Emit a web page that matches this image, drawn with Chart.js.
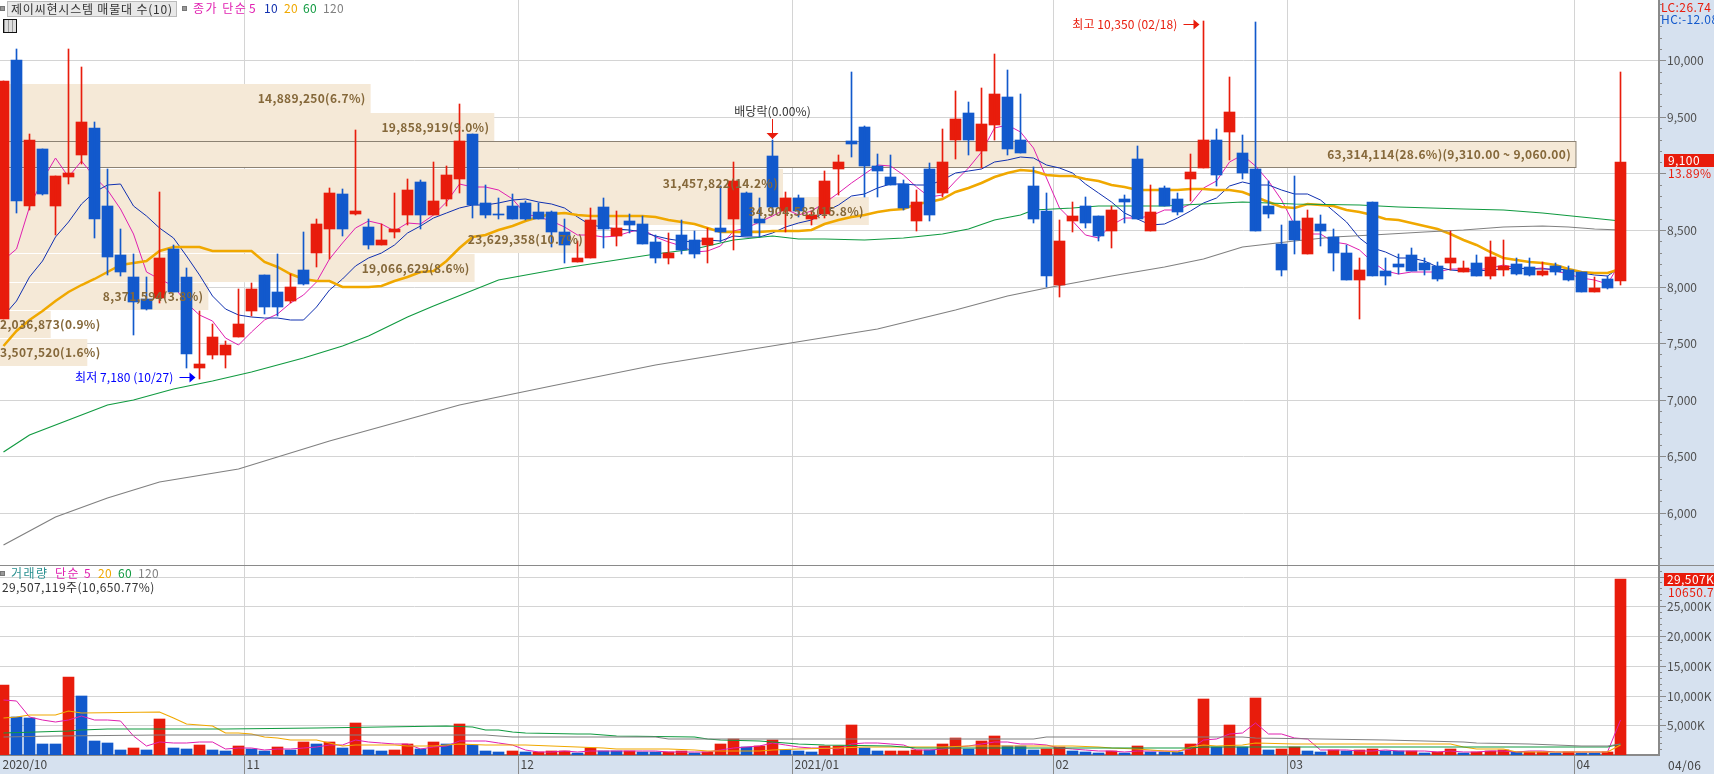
<!DOCTYPE html>
<html>
<head>
<meta charset="utf-8">
<script src="https://cdn.jsdelivr.net/npm/chart.js@4"></script>
<style>
    html, body { margin: 0; padding: 0; background: #fff; overflow: hidden; }
    #wrap { position: relative; width: 1714px; height: 774px; overflow: hidden; font: 12px "Noto Sans CJK KR", sans-serif; }
    canvas { position: absolute; left: 0; }
    #priceChart { top: 0; }
    #volumeChart { top: 565px; }
    .txt { position: absolute; white-space: nowrap; line-height: 14px; letter-spacing: 0.4px; }
    .mark { position: absolute; width: 5px; height: 5px; background: #999; border: 1px solid #777; box-sizing: border-box; }
</style>
</head>
<body>
<div id="wrap">
    <canvas id="priceChart" width="1714" height="565"></canvas>
    <canvas id="volumeChart" width="1714" height="209"></canvas>

    <div class="mark" style="left:0;top:6px"></div>
    <div class="txt" style="left:7px;top:1px;width:165px;height:14px;background:#e8e8e8;border:1px solid #bbb;box-sizing:content-box;padding-left:3px;color:#333;letter-spacing:0.8px">제이씨현시스템 매물대 수(10)</div>
    <div class="mark" style="left:182px;top:6px"></div>
    <div class="txt" style="left:193px;top:1px;color:#e020b0;letter-spacing:1.5px">종가 단순</div>
    <div class="txt" style="left:249px;top:1px;color:#e020b0">5</div>
    <div class="txt" style="left:264px;top:1px;color:#1030b0">10</div>
    <div class="txt" style="left:284px;top:1px;color:#f0a800">20</div>
    <div class="txt" style="left:303px;top:1px;color:#109a40">60</div>
    <div class="txt" style="left:323px;top:1px;color:#808080">120</div>
    <div style="position:absolute;left:3px;top:19px;width:12px;height:12px;border:1px solid #111;background:repeating-linear-gradient(90deg,#999 0 1px,#ddd 1px 4px)"></div>

    <div class="mark" style="left:0;top:571px"></div>
    <div class="txt" style="left:11px;top:566px;color:#2a9090;letter-spacing:1.5px">거래량</div>
    <div class="txt" style="left:55px;top:566px;color:#e020b0;letter-spacing:1.5px">단순</div>
    <div class="txt" style="left:84px;top:566px;color:#e020b0">5</div>
    <div class="txt" style="left:98px;top:566px;color:#f0a800">20</div>
    <div class="txt" style="left:118px;top:566px;color:#109a40">60</div>
    <div class="txt" style="left:138px;top:566px;color:#808080">120</div>
    <div class="txt" style="left:2px;top:580px;color:#333">29,507,119주(10,650.77%)</div>

    <div class="txt" style="left:1661px;top:0;color:#e81c0c">LC:26.74</div>
    <div class="txt" style="left:1661px;top:12px;color:#1259cc">HC:-12.08</div>
    <div class="txt" style="left:1668px;top:153px;width:46px;height:13px;line-height:14px;color:#fff;z-index:2">9,100</div>
    <div style="position:absolute;left:1664px;top:154px;width:50px;height:13px;background:#e81c0c;z-index:1"></div>
    <div class="txt" style="left:1668px;top:166px;color:#e81c0c">13.89%</div>
    <div style="position:absolute;left:1664px;top:573px;width:50px;height:13px;background:#e81c0c;z-index:1"></div>
    <div class="txt" style="left:1667px;top:572px;color:#fff;z-index:2">29,507K</div>
    <div class="txt" style="left:1668px;top:585px;width:46px;overflow:hidden;color:#e81c0c">10650.77</div>
    <div class="txt" style="left:1668px;top:758px;color:#444">04/06</div>
</div>

<script>
// trading days
const dates = [
    '10/05','10/06','10/07','10/08','10/12','10/13','10/14','10/15','10/16','10/19','10/20','10/21','10/22','10/23','10/26','10/27','10/28','10/29','10/30',
    '11/02','11/03','11/04','11/05','11/06','11/09','11/10','11/11','11/12','11/13','11/16','11/17','11/18','11/19','11/20','11/23','11/24','11/25','11/26','11/27','11/30',
    '12/01','12/02','12/03','12/04','12/07','12/08','12/09','12/10','12/11','12/14','12/15','12/16','12/17','12/18','12/21','12/22','12/23','12/24','12/28','12/29','12/30',
    '01/04','01/05','01/06','01/07','01/08','01/11','01/12','01/13','01/14','01/15','01/18','01/19','01/20','01/21','01/22','01/25','01/26','01/27','01/28','01/29',
    '02/01','02/02','02/03','02/04','02/05','02/08','02/09','02/10','02/15','02/16','02/17','02/18','02/19','02/22','02/23','02/24','02/25','02/26',
    '03/02','03/03','03/04','03/05','03/08','03/09','03/10','03/11','03/12','03/15','03/16','03/17','03/18','03/19','03/22','03/23','03/24','03/25','03/26','03/29','03/30','03/31',
    '04/01','04/02','04/05','04/06'
];

const opens = [7710,10000,8715,9215,8715,8965,9160,9400,8715,8275,8080,7890,7895,8335,8080,7275,7390,7395,7550,7780,8105,7955,7875,8150,8300,8505,8815,8645,8530,8370,8485,8635,8920,8635,8770,8950,9345,8735,8645,8715,8735,8655,8655,8480,8220,8250,8700,8445,8575,8550,8390,8255,8460,8415,8370,8520,8595,8830,8600,9150,8665,8780,8600,8645,9035,9290,9415,9070,8965,8910,8575,9035,8830,9300,9535,9195,9425,9675,9300,8885,8665,8010,8575,8715,8620,8495,8770,9125,8495,8875,8770,8950,9050,9300,9365,9185,9035,8715,8380,8575,8290,8550,8435,8300,8060,8745,8140,8195,8275,8210,8185,8205,8125,8210,8095,8150,8195,8175,8105,8185,8150,8125,7955,8070,8050];
const closes = [9815,8760,9300,8815,8975,9000,9455,8595,8265,8130,7860,7805,8255,7955,7405,7315,7555,7485,7670,7975,7815,7820,8000,8025,8550,8825,8505,8665,8370,8415,8505,8850,8635,8755,8990,9285,8725,8635,8630,8600,8600,8595,8480,8365,8250,8585,8505,8515,8540,8380,8250,8300,8320,8285,8425,8480,8930,8450,8565,8700,8780,8665,8635,8930,9105,9260,9065,9020,8895,8690,8745,8630,9105,9480,9295,9435,9700,9215,9180,8595,8095,8405,8620,8565,8445,8675,8745,8600,8655,8715,8655,9010,9300,8985,9540,9000,8495,8645,8150,8415,8610,8495,8300,8060,8150,8095,8095,8170,8140,8150,8070,8250,8160,8090,8265,8185,8115,8105,8140,8125,8060,7955,7990,7985,9100];
const highs = [9815,10100,9345,9220,8975,10100,9940,9455,9035,8505,8290,8080,8840,8370,8160,7785,7665,7520,7975,8035,8105,8285,8115,8485,8600,8875,8860,9380,8600,8550,8825,8955,8940,9105,9065,9610,9345,8895,8780,8815,8760,8735,8665,8595,8405,8690,8780,8665,8645,8620,8460,8470,8585,8495,8520,8885,9105,8840,8780,9300,8840,8805,8665,9025,9160,9895,9420,9170,9160,8940,8850,9090,9390,9725,9630,9755,10055,9915,9700,9055,8825,8585,8745,8795,8620,8715,8805,9240,8895,8885,8830,9170,10350,9390,9850,9340,10340,8930,8540,8975,8675,8635,8505,8365,8250,8745,8250,8285,8345,8255,8220,8490,8230,8275,8405,8415,8250,8250,8220,8210,8185,8125,8080,8095,9895];
const lows = [7710,8650,8680,8805,8460,8905,9085,8425,8105,8095,7575,7795,7850,7950,7275,7180,7355,7275,7550,7740,7760,7740,7850,8010,8170,8245,8450,8630,8335,8365,8425,8540,8505,8635,8715,8830,8610,8610,8595,8600,8585,8595,8350,8205,8220,8250,8345,8355,8470,8375,8210,8195,8290,8255,8205,8390,8320,8450,8435,8640,8485,8615,8540,8610,8805,9145,8790,8790,8895,8675,8495,8575,8795,9125,9160,9045,9295,9160,9180,8565,7995,7905,8480,8520,8405,8345,8560,8600,8495,8715,8635,8760,9050,8885,9115,8955,8495,8610,8090,8285,8290,8355,8140,8060,7715,8095,8015,8115,8140,8105,8045,8150,8125,8090,8070,8090,8105,8090,8090,8105,8045,7955,7955,7975,8010];

// price moving averages
const ma5 = [8236,8333,8703,8939,9133,8970,9109,8968,8858,8689,8461,8131,8063,8001,7856,7747,7697,7543,7486,7600,7700,7753,7856,7927,8042,8244,8381,8514,8583,8556,8492,8561,8555,8632,8747,8903,8878,8878,8853,8775,8638,8612,8581,8528,8458,8455,8437,8444,8479,8505,8438,8397,8358,8307,8316,8362,8488,8514,8570,8625,8685,8632,8669,8742,8823,8919,8999,9076,9069,8986,8883,8796,8813,8930,9051,9189,9403,9425,9365,9225,8957,8698,8579,8456,8426,8542,8610,8606,8624,8678,8674,8727,8867,8933,9098,9167,9064,8933,8766,8541,8463,8463,8394,8376,8323,8220,8140,8114,8130,8130,8125,8156,8154,8144,8167,8190,8163,8152,8162,8134,8109,8077,8054,8023,8218];
const ma10 = [7742,7875,8082,8230,8437,8570,8726,8836,8895,8911,8715,8620,8515,8430,8272,8104,7914,7803,7744,7728,7724,7725,7700,7706,7821,7972,8067,8185,8255,8299,8368,8471,8535,8608,8652,8698,8720,8717,8743,8761,8771,8745,8730,8691,8617,8547,8525,8513,8504,8482,8447,8417,8401,8393,8411,8400,8443,8436,8439,8471,8524,8560,8592,8656,8724,8802,8816,8873,8906,8905,8901,8898,8945,9000,9019,9036,9100,9119,9148,9138,9073,9051,9002,8911,8826,8750,8654,8593,8540,8552,8608,8669,8737,8779,8888,8921,8896,8900,8850,8820,8815,8764,8664,8571,8432,8342,8302,8254,8253,8227,8173,8148,8134,8137,8149,8158,8160,8153,8153,8151,8150,8120,8103,8093,8176];
const ma20 = [7477,7610,7700,7787,7870,7949,8010,8067,8125,8186,8210,8230,8318,8348,8348,8348,8318,8318,8318,8318,8215,8171,8112,8067,8053,8047,8000,8000,8000,8008,8047,8082,8126,8141,8230,8342,8437,8460,8496,8534,8575,8614,8637,8649,8629,8626,8623,8623,8620,8620,8611,8590,8567,8549,8516,8484,8481,8481,8481,8487,8493,8493,8496,8549,8584,8614,8629,8658,8673,8688,8726,8747,8776,8836,8871,8918,8968,9004,9027,9021,8983,8974,8974,8954,8933,8900,8880,8850,8850,8850,8850,8865,8865,8850,8850,8836,8791,8747,8703,8697,8726,8717,8708,8673,8658,8629,8599,8584,8564,8534,8505,8466,8413,8363,8304,8254,8236,8215,8209,8186,8156,8132,8123,8123,8156];
const ma60Days = [0,2,5,8,10,13,16,19,23,26,28,31,33,38,43,46,50,53,56,59,61,63,66,69,72,74,76,78,79,82,84,87,89,92,95,97,99,104,107,112,115,118,121,124];
const ma60 = [6540,6683,6817,6952,6995,7092,7166,7240,7367,7477,7565,7728,7831,8058,8165,8215,8289,8333,8407,8443,8422,8416,8413,8431,8466,8510,8584,8629,8673,8697,8708,8708,8708,8726,8750,8741,8730,8723,8702,8682,8679,8652,8614,8581];
const ma120Days = [0,4,8,12,18,25,35,42,50,58,67,73,77,80,85,89,92,95,99,102,105,109,112,115,118,120,122,124];
const ma120 = [5710,5962,6127,6272,6388,6630,6950,7124,7308,7454,7628,7793,7920,7988,8094,8171,8245,8348,8401,8437,8457,8481,8496,8525,8534,8525,8508,8502];

// price profile (매물대), ten bins
const profileTop = [9790,9533,9285,9037,8789,8541,8284,8035,7787,7539];
const profileBottom = [9537,9291,9046,8793,8545,8292,8044,7792,7548,7300];
const profileVolume = [14889250,19858919,63314114,31457822,34904583,23629358,19066629,8371594,2036873,3507520];
const profileLabels = ['14,889,250(6.7%)','19,858,919(9.0%)','63,314,114(28.6%)(9,310.00 ~ 9,060.00)','31,457,822(14.2%)','34,904,583(15.8%)','23,629,358(10.7%)','19,066,629(8.6%)','8,371,594(3.8%)','2,036,873(0.9%)','3,507,520(1.6%)'];

// volume in thousand shares
const volumes = [11850,6394,6170,1835,1830,13177,9841,2335,2000,834,1168,834,6005,1168,1000,1668,834,667,1500,945,667,1334,890,2168,1835,2168,1168,5338,834,667,834,1835,1000,2168,1835,5171,1668,667,500,667,500,510,667,675,390,1168,667,650,660,500,490,500,667,390,556,1835,2669,1279,1500,2502,834,667,500,1557,1560,5004,1168,667,670,675,834,830,1835,2891,1000,2335,3169,1500,1490,834,1000,1279,667,500,334,667,334,1500,556,550,545,1835,9341,1334,5004,1334,9508,834,1000,1390,667,500,834,612,834,1000,612,600,612,390,500,1000,390,500,612,834,500,510,520,390,500,390,385,500,29507];
const volMa5 = [9285,9063,6394,5950,5616,5881,6571,5804,5837,5637,3236,1434,2168,2002,2035,2135,2135,1067,1134,1123,923,1023,1067,1201,1379,1679,1646,2535,2269,2035,1768,1902,1034,1301,1534,2402,2368,2302,1968,1735,800,569,569,604,548,682,713,710,707,729,593,560,563,509,521,790,1223,1346,1568,1957,1757,1356,1201,1212,1024,1858,1958,1991,1814,1637,843,775,969,1413,1478,1778,2246,2179,1899,1866,1599,1221,1054,856,756,689,500,667,678,721,697,997,2565,2721,3612,3770,5304,3603,3536,2813,2680,878,878,801,689,756,778,732,732,643,543,620,578,556,600,667,567,591,595,551,484,462,437,433,5950];
const volMa20Days = [0,1,2,4,5,6,12,13,14,15,16,17,18,19,20,21,22,24,25,26,27,30,31,33,34,35,37,38,40,42,44,46,47,51,53,54,58,59,61,64,66,72,74,77,82,84,85,87,90,91,92,93,95,96,99,103,111,112,113,115,116,118,123,124];
const volMa20 = [6283,6394,6728,6783,7395,7117,7284,6227,5282,5060,4837,3781,3725,3614,3058,2780,2446,2446,1946,1557,1612,1612,1446,1500,1612,1779,1724,1612,1612,1446,1390,1223,1056,1056,890,723,723,890,945,1112,1279,1390,1500,1557,1500,1390,1112,1000,556,1279,1612,1500,1612,1946,1779,1779,1779,1279,1056,1056,556,556,445,1668];
const volMa60Days = [0,5,6,8,17,24,34,36,37,38,39,40,44,45,47,53,54,55,58,59,60,61,63,68,70,85,87,91,92,101,117,123,124];
const volMa60 = [3781,4059,4226,4392,4392,4559,4837,4782,4281,4226,3836,3670,3614,3503,3225,2947,2669,2446,2391,2113,2057,1835,1612,1446,1223,1223,1112,1112,1390,1279,1279,1279,1779];
const volMa120Days = [0,4,12,37,39,50,51,79,80,95,96,101,106,112,113,117,119,121,123,124];
const volMa120 = [2947,3114,3280,3336,3058,2947,2724,2724,2947,3058,2780,2613,2446,2224,1946,1835,1612,1446,1446,1890];

// axes
const monthTicks = [-0.268,18.5,39.5,60.5,80.5,98.5,120.5];
const monthLabels = ['2020/10','11','12','2021/01','02','03','04'];
const priceTicks = [6000,6500,7000,7500,8000,8500,9000,9500,10000];
const volumeTicks = [5000,10000,15000,20000,25000,30000];

const RED = '#e81c0c';
const BLUE = '#1259cc';
const BAND = '#d6e1ef';
const GRID = '#d4d4d4';
const AXIS = '#8a8a8a';
const FONT = '"Noto Sans CJK KR", sans-serif';

function points(values, days) {
    return values.map((v, i) => ({ x: days ? days[i] : i, y: v }));
}

function lineSet(values, days, color, width) {
    return { type: 'line', data: points(values, days), borderColor: color, borderWidth: width, pointRadius: 0, tension: 0, order: 2 };
}

// keep marks on whole pixels, the original is drawn without antialiasing
function snapScale(axis, offset) {
    if (axis.snapped) return;
    axis.snapped = true;
    const base = axis.constructor.prototype.getPixelForValue;
    axis.getPixelForValue = function (v) { return Math.round(base.call(axis, v) - offset) + offset; };
}

function xAxis(showLabels) {
    return {
        type: 'linear', min: -0.268, max: 126.96, offset: false,
        afterDataLimits: axis => snapScale(axis, 0.5),
        afterBuildTicks: axis => { axis.ticks = monthTicks.map(v => ({ value: v })); },
        afterFit: axis => { axis.height = showLabels ? 19 : 0; axis.paddingLeft = 0; axis.paddingRight = 0; },
        grid: {
            offset: false,
            color: c => c.index === 0 ? 'transparent' : GRID,
            tickColor: c => c.index === 0 ? 'transparent' : AXIS,
            lineWidth: 1, drawTicks: showLabels, tickLength: 19
        },
        border: { display: showLabels, color: AXIS, width: 2 },
        ticks: {
            display: showLabels, autoSkip: false, maxRotation: 0, minRotation: 0, align: 'start', labelOffset: 2, padding: -17,
            color: '#444', font: { family: FONT, size: 12 },
            callback: (v, i) => monthLabels[i]
        }
    };
}

function yAxis(min, max, tickValues, fmt) {
    return {
        position: 'right', min: min, max: max,
        afterDataLimits: axis => snapScale(axis, 0),
        afterBuildTicks: axis => { axis.ticks = tickValues.map(v => ({ value: v })); },
        afterFit: axis => { axis.width = 55; axis.paddingTop = 0; axis.paddingBottom = 0; },
        grid: { color: GRID, lineWidth: 1, tickColor: AXIS, tickLength: 7 },
        border: { color: AXIS, width: 2 },
        ticks: { autoSkip: false, padding: 1, color: '#505050', font: { family: FONT, size: 12 }, callback: fmt }
    };
}

// panel background and the small ticks of the value axis
function panelPlugin(minorFrom, minorTo, minorStep) {
    return {
        id: 'panel',
        beforeDraw(chart) {
            const { ctx, width, height, chartArea: a } = chart;
            ctx.save();
            ctx.fillStyle = '#fff';
            ctx.fillRect(0, 0, width, height);
            ctx.fillStyle = BAND;
            ctx.fillRect(a.right, 0, width - a.right, height);
            ctx.fillRect(0, a.bottom, width, height - a.bottom);
            ctx.restore();
        },
        afterDraw(chart) {
            const { ctx, chartArea: a, scales } = chart;
            ctx.save();
            ctx.fillStyle = AXIS;
            for (let v = minorFrom; v <= minorTo; v += minorStep) {
                ctx.fillRect(a.right, Math.round(scales.y.getPixelForValue(v)), 3, 1);
            }
            ctx.restore();
        }
    };
}

const profilePlugin = {
    id: 'profile',
    beforeDatasetsDraw(chart) {
        const { ctx, scales } = chart;
        ctx.save();
        profileVolume.forEach((vol, i) => {
            const top = scales.y.getPixelForValue(profileTop[i]);
            const bottom = scales.y.getPixelForValue(profileBottom[i]);
            const right = scales.share.getPixelForValue(vol);
            ctx.fillStyle = '#f5e9d7';
            ctx.fillRect(0, top, right, bottom - top);
            if (vol === Math.max(...profileVolume)) {
                ctx.strokeStyle = '#8c8273';
                ctx.lineWidth = 1;
                ctx.strokeRect(-1, top + 0.5, right + 1, bottom - top - 1);
            }
        });
        ctx.restore();
    },
    afterDatasetsDraw(chart) {
        const { ctx, scales } = chart;
        ctx.save();
        ctx.font = 'bold 12px ' + FONT;
        ctx.letterSpacing = '0.3px';
        ctx.fillStyle = '#85683a';
        ctx.textBaseline = 'middle';
        profileLabels.forEach((label, i) => {
            const y = (scales.y.getPixelForValue(profileTop[i]) + scales.y.getPixelForValue(profileBottom[i])) / 2;
            const w = ctx.measureText(label).width;
            const x = Math.max(0, scales.share.getPixelForValue(profileVolume[i]) - 5 - w);
            ctx.fillText(label, x, y);
        });
        ctx.restore();
    }
};

// high, low and ex-dividend notes, tied to their candles
const notePlugin = {
    id: 'notes',
    afterDatasetsDraw(chart) {
        const { ctx, scales } = chart;
        const hi = dates.indexOf('02/18');
        const lo = dates.indexOf('10/27');
        const ex = dates.indexOf('12/29');
        ctx.save();
        ctx.font = '12px ' + FONT;
        ctx.letterSpacing = '0.1px';
        ctx.textBaseline = 'middle';

        function rightArrow(color, text, index, value) {
            const tip = scales.x.getPixelForValue(index) - 5;
            const y = Math.round(scales.y.getPixelForValue(value));
            ctx.fillStyle = color;
            ctx.textAlign = 'right';
            ctx.fillText(text, tip - 21, y);
            ctx.fillRect(tip - 15, y, 15, 1);
            ctx.beginPath();
            ctx.moveTo(tip + 1, y + 0.5);
            ctx.lineTo(tip - 5, y - 4.5);
            ctx.lineTo(tip - 5, y + 5.5);
            ctx.fill();
        }
        rightArrow(RED, '최고 10,350 (02/18)', hi, 10321);
        rightArrow('#0000ff', '최저 7,180 (10/27)', lo, 7203);

        const x = scales.x.getPixelForValue(ex);
        const tipY = scales.y.getPixelForValue(highs[ex]) - 1;
        ctx.fillStyle = RED;
        ctx.fillRect(x - 0.5, tipY - 20, 1, 20);
        ctx.beginPath();
        ctx.moveTo(x, tipY);
        ctx.lineTo(x - 6, tipY - 6);
        ctx.lineTo(x + 6, tipY - 6);
        ctx.fill();
        ctx.fillStyle = '#333';
        ctx.textAlign = 'center';
        ctx.fillText('배당락(0.00%)', x, tipY - 28);
        ctx.restore();
    }
};

const candleColors = closes.map((c, i) => c >= opens[i] ? RED : BLUE);
const volumeColors = volumes.map((v, i) => i === 0 || v > volumes[i - 1] ? RED : BLUE);

new Chart(document.getElementById('priceChart'), {
    data: {
        datasets: [
            lineSet(ma120, ma120Days, '#808080', 1.2),
            lineSet(ma60, ma60Days, '#109a40', 1.2),
            lineSet(ma20, null, '#f0a800', 2.5),
            lineSet(ma10, null, '#1030b0', 1),
            lineSet(ma5, null, '#e020b0', 1),
            {
                type: 'bar', grouped: false, barThickness: 1, order: 1,
                data: dates.map((d, i) => ({ x: i, y: [lows[i], highs[i]] })),
                backgroundColor: candleColors
            },
            {
                type: 'bar', grouped: false, barThickness: 11, order: 1,
                data: dates.map((d, i) => ({ x: i, y: [opens[i], closes[i]] })),
                backgroundColor: candleColors
            }
        ]
    },
    options: {
        responsive: false, animation: false, devicePixelRatio: 1,
        layout: { padding: 0 },
        plugins: { legend: { display: false }, tooltip: { enabled: false } },
        scales: {
            x: xAxis(false),
            share: { type: 'linear', display: false, axis: 'x', position: 'bottom', offset: false, min: 0, max: 66650000 },
            // the 9,000 label sits under the change-rate text in the original
            y: yAxis(5537, 10534, priceTicks, v => v === 9000 ? '' : v.toLocaleString('en-US'))
        }
    },
    plugins: [panelPlugin(5600, 10500, 100), profilePlugin, notePlugin]
});

new Chart(document.getElementById('volumeChart'), {
    data: {
        datasets: [
            lineSet(volMa120, volMa120Days, '#808080', 1.2),
            lineSet(volMa60, volMa60Days, '#109a40', 1.2),
            lineSet(volMa20, volMa20Days, '#f0a800', 1.2),
            lineSet(volMa5, null, '#e020b0', 1),
            {
                type: 'bar', grouped: false, barThickness: 11, order: 3,
                data: volumes.map((v, i) => ({ x: i, y: v })),
                backgroundColor: volumeColors
            }
        ]
    },
    options: {
        responsive: false, animation: false, devicePixelRatio: 1,
        layout: { padding: 0 },
        plugins: { legend: { display: false }, tooltip: { enabled: false } },
        scales: {
            x: xAxis(true),
            y: yAxis(0, 31940, volumeTicks, v => v.toLocaleString('en-US') + 'K')
        }
    },
    plugins: [
        panelPlugin(1000, 31000, 1000),
        {
            id: 'separator',
            afterDraw(chart) {
                chart.ctx.fillStyle = AXIS;
                chart.ctx.fillRect(0, 0, chart.width, 1);
            }
        }
    ]
});
</script>
</body>
</html>
